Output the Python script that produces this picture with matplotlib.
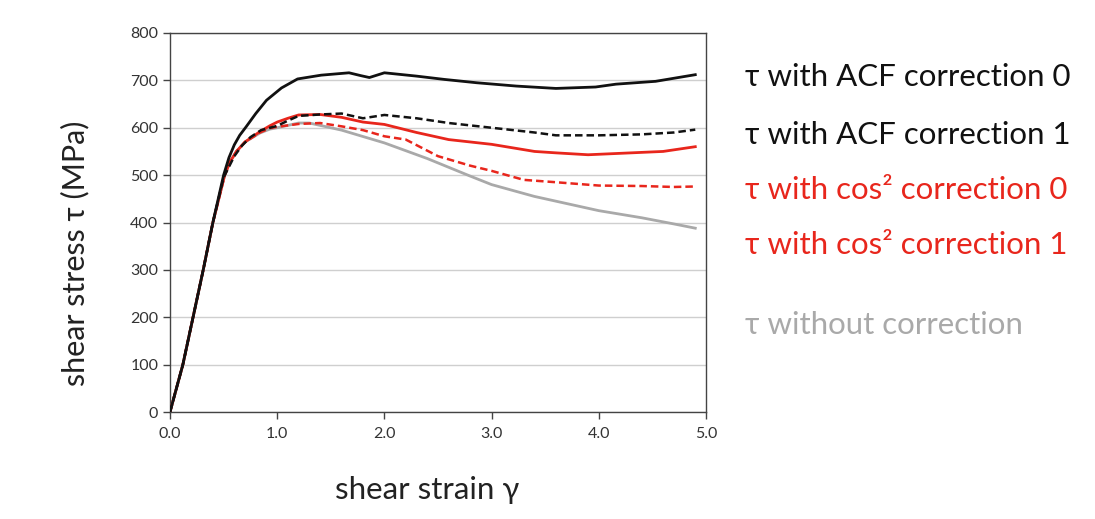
import matplotlib
matplotlib.use("Agg")
import matplotlib.pyplot as plt

plt.rcParams['font.family'] = ['Lato', 'DejaVu Sans']

# shear strain / shear stress curves (MPa)
acf0_strain = [0.0, 0.12, 0.215, 0.31, 0.40, 0.5, 0.55, 0.6, 0.65, 0.71, 0.8, 0.9, 1.04, 1.19, 1.41, 1.67, 1.78, 1.86, 2.0, 2.3, 2.56, 2.86, 3.23, 3.6, 3.97, 4.16, 4.53, 4.9]
acf0_stress = [0, 100, 200, 300, 400, 500, 537, 564, 584, 602, 630, 658, 684, 703, 711, 716, 710, 706, 716, 709, 702, 695, 688, 683, 686, 692, 698, 712]

acf1_strain = [0.0, 0.12, 0.215, 0.31, 0.40, 0.5, 0.6, 0.67, 0.75, 0.85, 1.0, 1.1, 1.2, 1.4, 1.6, 1.8, 2.0, 2.3, 2.6, 3.0, 3.4, 3.6, 4.0, 4.4, 4.7, 4.9]
acf1_stress = [0, 100, 200, 300, 400, 495, 540, 562, 580, 595, 604, 615, 625, 628, 630, 620, 627, 620, 610, 600, 590, 584, 584, 586, 590, 596]

cos0_strain = [0.0, 0.12, 0.215, 0.31, 0.40, 0.51, 0.56, 0.62, 0.7, 0.84, 0.93, 1.0, 1.1, 1.2, 1.4, 1.6, 1.8, 2.0, 2.3, 2.6, 3.0, 3.4, 3.6, 3.9, 4.2, 4.6, 4.9]
cos0_stress = [0, 100, 200, 300, 400, 500, 528, 550, 570, 592, 604, 612, 620, 627, 628, 622, 612, 607, 590, 575, 565, 550, 547, 543, 546, 550, 560]

cos1_strain = [0.0, 0.12, 0.215, 0.31, 0.40, 0.51, 0.56, 0.62, 0.7, 0.84, 0.93, 1.0, 1.2, 1.4, 1.6, 1.8, 2.0, 2.2, 2.5, 2.8, 3.0, 3.3, 3.6, 4.0, 4.4, 4.7, 4.9]
cos1_stress = [0, 100, 200, 300, 400, 500, 528, 550, 570, 590, 599, 602, 608, 610, 603, 595, 582, 575, 540, 520, 509, 490, 485, 478, 477, 475, 476]

raw_strain = [0.0, 0.12, 0.215, 0.31, 0.40, 0.51, 0.56, 0.62, 0.7, 0.84, 0.93, 1.0, 1.2, 1.3, 1.6, 2.0, 2.4, 2.8, 3.0, 3.4, 3.6, 4.0, 4.4, 4.7, 4.9]
raw_stress = [0, 100, 200, 300, 400, 500, 528, 550, 570, 589, 597, 600, 610, 610, 595, 568, 535, 498, 480, 455, 445, 425, 410, 397, 388]

x_ticks = [0.0, 1.0, 2.0, 3.0, 4.0, 5.0]
y_ticks = [0, 100, 200, 300, 400, 500, 600, 700, 800]

legend_labels = [
    "τ with ACF correction 0",
    "τ with ACF correction 1",
    "τ with cos² correction 0",
    "τ with cos² correction 1",
    "τ without correction",
]

RED = "#e8261c"
GRAY = "#a9a9a9"
BLACK = "#111111"

W, H = 1095, 519
fig = plt.figure(figsize=(W / 100, H / 100), dpi=100)
ax_left, ax_right, ax_top, ax_bottom = 170, 706, 33, 412
ax = fig.add_axes([ax_left / W, 1 - ax_bottom / H,
                   (ax_right - ax_left) / W, (ax_bottom - ax_top) / H])

ax.plot(raw_strain, raw_stress, color=GRAY, lw=2.0, zorder=3)
ax.plot(cos1_strain, cos1_stress, color=RED, lw=1.8, ls=(0, (3, 1.6)), zorder=4)
ax.plot(cos0_strain, cos0_stress, color=RED, lw=2.0, zorder=5)
ax.plot(acf1_strain, acf1_stress, color=BLACK, lw=1.8, ls=(0, (3, 1.6)), zorder=6)
ax.plot(acf0_strain, acf0_stress, color=BLACK, lw=2.0, zorder=7)

ax.set_xlim(0, 5)
ax.set_ylim(0, 800)
ax.set_xticks(x_ticks)
ax.set_xticklabels([f"{v:.1f}" for v in x_ticks])
ax.set_yticks(y_ticks)
ax.set_yticklabels([str(v) for v in y_ticks])

ax.grid(axis='y', color="#cfcfcf", lw=1.0)
ax.set_axisbelow(True)
for s in ax.spines.values():
    s.set_color("#444444")
    s.set_linewidth(1.0)
ax.tick_params(axis='both', colors="#444444", labelcolor="#333333", labelsize=11.5, length=5, width=1.0)
ax.tick_params(axis='x', pad=6)

def to_axes(px, py):
    return ((px - ax_left) / (ax_right - ax_left), (ax_bottom - py) / (ax_bottom - ax_top))

ax.set_xlabel("shear strain γ", fontsize=22.5, color="#222222", va='center')
ax.xaxis.set_label_coords(*to_axes(427, 490))
ax.set_ylabel("shear stress τ (MPa)", fontsize=22, color="#222222", va='center')
ax.yaxis.set_label_coords(*to_axes(75, 253))

legend_colors = [BLACK, BLACK, RED, RED, GRAY]
legend_y = [77, 135, 190, 245, 325]
for lab, col, yy in zip(legend_labels, legend_colors, legend_y):
    fig.text(745 / W, 1 - yy / H, lab, color=col, fontsize=22.5, va='center', ha='left')

fig.savefig("out.png", dpi=100)
